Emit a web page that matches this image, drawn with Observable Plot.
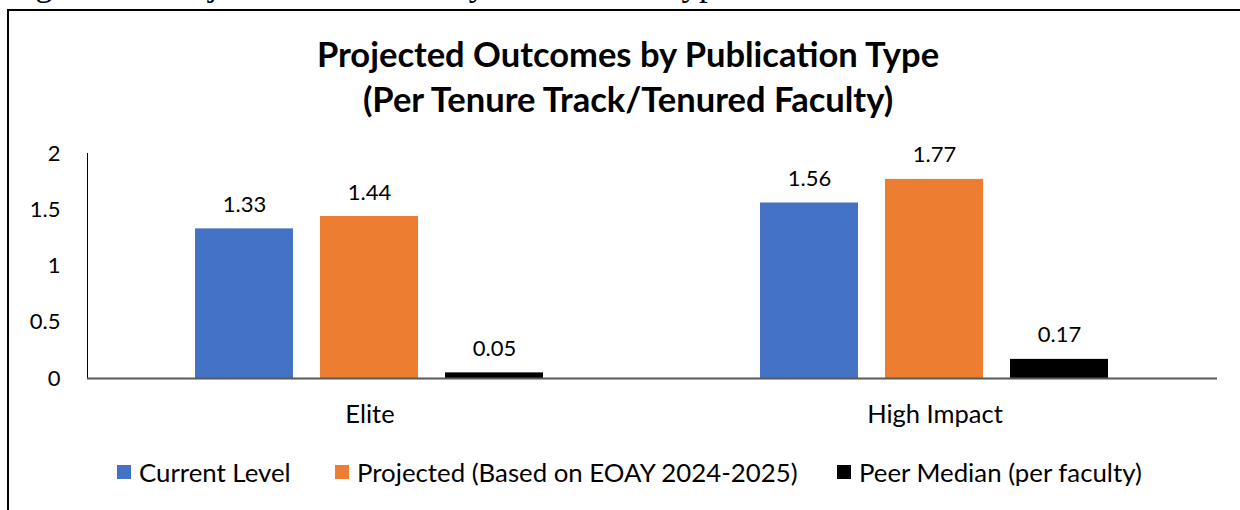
<!DOCTYPE html>
<html>
<head>
<meta charset="utf-8">
<script src="https://cdn.jsdelivr.net/npm/d3@7"></script>
<script src="https://cdn.jsdelivr.net/npm/@observablehq/plot@0.6"></script>
<style>
  html, body { margin: 0; padding: 0; background: #fff; }
  body { width: 1240px; height: 510px; position: relative; overflow: hidden; font-family: Lato, "Open Sans", sans-serif; }
  #caption { position: absolute; left: 6px; top: -34px; font-family: "Liberation Serif", "Times New Roman", serif; font-size: 35px; line-height: 35px; white-space: nowrap; color: #000; }
  #frame { position: absolute; left: 7px; top: 9px; width: 1260px; height: 520px; border: 2.5px solid #000; box-sizing: border-box; }
  #title { position: absolute; left: 16px; width: 1224px; top: 31px; text-align: center; font-weight: bold; font-size: 34.5px; line-height: 45px; color: #000; }
  #chart { position: absolute; left: 0; top: 130px; }
  #legend { position: absolute; left: 0; top: 455px; width: 1240px; height: 34px; font-size: 25.8px; color: #000; }
  .item { position: absolute; top: 0; display: flex; align-items: center; height: 34px; white-space: nowrap; }
  .sw { width: 14px; height: 14px; margin-right: 8px; }
</style>
</head>
<body>
<div id="caption">Figure 14: Projected Outcomes by Publication Type – FY26</div>
<div id="frame"></div>
<div id="title">Projected Outcomes by Publication Type<br>(Per Tenure Track/Tenured Faculty)</div>
<div id="chart"></div>
<div id="legend"></div>
<script>
const categories = ["Elite", "High Impact"];
const series = ["Current Level", "Projected (Based on EOAY 2024-2025)", "Peer Median (per faculty)"];
const currentLevel = [1.33, 1.56];
const projected = [1.44, 1.77];
const peerMedian = [0.05, 0.17];
const colors = ["#4472C4", "#ED7D31", "#000000"];
const yTicks = [0, 0.5, 1, 1.5, 2];
const legendX = [117, 335, 837];

const valuesBySeries = [currentLevel, projected, peerMedian];
const data = [];
categories.forEach((c, i) => {
  series.forEach((s, j) => data.push({category: c, series: s, value: valuesBySeries[j][i]}));
});
const fmt = d3.format(".2f");

const chart = Plot.plot({
  width: 1240,
  height: 300,
  marginTop: 23,
  marginBottom: 52,
  marginLeft: 87,
  marginRight: 23,
  style: {fontFamily: "Lato, 'Open Sans', sans-serif", background: "transparent", color: "#000"},
  fx: {domain: categories, padding: 0, label: null},
  x: {domain: series, paddingInner: 0.215, paddingOuter: 0.858, axis: null},
  y: {domain: [0, 2], label: null},
  color: {domain: series, range: colors},
  marks: [
    Plot.frame({anchor: "left", facet: "super", stroke: "#000", strokeWidth: 1}),
    Plot.axisY({ticks: yTicks, tickSize: 0, tickPadding: 27, fontSize: 22, label: null, tickFormat: d => String(d)}),
    Plot.axisFx({anchor: "bottom", tickSize: 0, tickPadding: 26, fontSize: 25.5, label: null}),
    Plot.barY(data, {fx: "category", x: "series", y: "value", fill: "series"}),
    Plot.ruleY([0], {stroke: "#595959", strokeWidth: 2}),
    Plot.text(data, {fx: "category", x: "series", y: "value", text: d => fmt(d.value), dy: -24, fontSize: 22, fill: "#000"})
  ]
});
document.getElementById("chart").appendChild(chart);

const legend = document.getElementById("legend");
series.forEach((s, j) => {
  const item = document.createElement("div");
  item.className = "item";
  item.style.left = legendX[j] + "px";
  const sw = document.createElement("div");
  sw.className = "sw";
  sw.style.background = colors[j];
  const label = document.createElement("span");
  label.textContent = s;
  item.appendChild(sw);
  item.appendChild(label);
  legend.appendChild(item);
});
</script>
</body>
</html>
